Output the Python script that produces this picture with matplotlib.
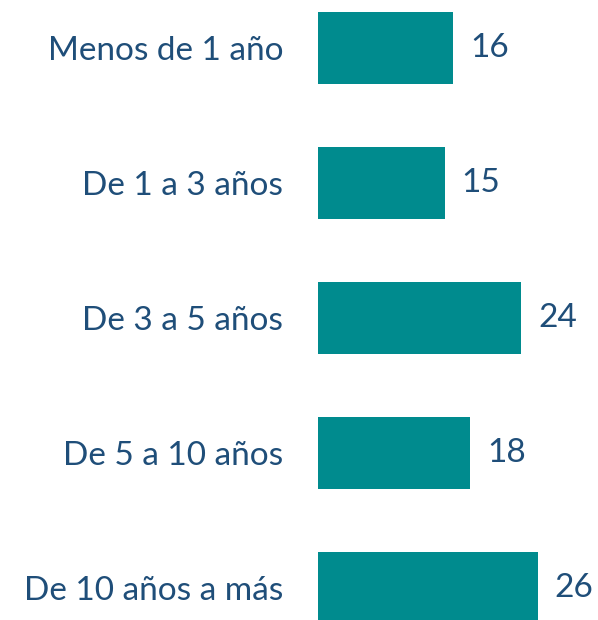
import matplotlib
matplotlib.use("Agg")
import matplotlib.pyplot as plt

categories = ["Menos de 1 año", "De 1 a 3 años", "De 3 a 5 años",
              "De 5 a 10 años", "De 10 años a más"]
values = [16, 15, 24, 18, 26]

bar_color = "#008B8E"
text_color = "#1F4E79"

plt.rcParams['font.family'] = ['Lato', 'DejaVu Sans']

fig = plt.figure(figsize=(5.98, 6.2), dpi=100)
ax = fig.add_axes([318 / 598, 0, 1 - 318 / 598, 1])

pos = list(range(len(categories)))
ax.barh(pos, values, height=0.533, color=bar_color)

for p, v in zip(pos, values):
    ax.text(v + 2.0, p, str(v), va="center", ha="left",
            fontsize=24, color=text_color)

ax.set_xlim(0, 33.1)
ax.set_ylim(4.237, -0.356)
ax.set_yticks(pos)
ax.set_yticklabels(categories, fontsize=24, color=text_color)
ax.tick_params(axis="y", length=0, pad=25)
ax.set_xticks([])
for s in ["top", "right", "bottom", "left"]:
    ax.spines[s].set_visible(False)

fig.savefig("out.png", dpi=100)
